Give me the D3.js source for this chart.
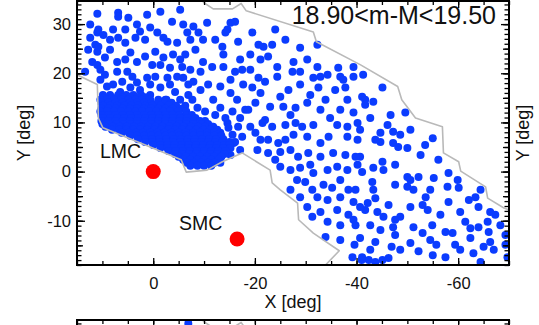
<!DOCTYPE html>
<html>
<head>
<meta charset="utf-8">
<script src="https://cdn.jsdelivr.net/npm/d3@7"></script>
<style>
  body { margin: 0; background: #fff; }
  svg { display: block; }
  text { font-family: "Liberation Sans", Arial, sans-serif; fill: #111; }
</style>
</head>
<body>
<svg id="chart" width="539" height="325"></svg>
<script>
// ---- data (sky coordinates in degrees, X grows to the left) ----
const xDomain = [15, -70];
const yDomain = [-19, 34.7];
const xMajorTicks = [0, -20, -40, -60];
const yMajorTicks = [-10, 0, 10, 20, 30];
const panelTitle = "18.90<m-M<19.50";
const nextPanelTitle = "19.50<m-M<20.10";
const xLabel = "X [deg]";
const yLabel = "Y [deg]";

// Magellanic Cloud centres
const cloudNames = ["LMC", "SMC"];
const cloudX = [0, -16.5];
const cloudY = [0, -13.7];

// survey footprint outline
const footprint = [
  [18.3, 37.0], [-8.9, 37.0], [-9.9, 34.4], [-11.8, 33.1], [-15.6, 33.1], [-17.3, 34.2],
  [-18.3, 32.7], [-31.5, 28.4], [-32.1, 26.4], [-40.8, 21.7], [-48.1, 17.3], [-48.9, 14.6],
  [-51.6, 10.9], [-56.9, 9.1], [-57.1, 3.8], [-60.1, 2.0], [-60.5, 0.1], [-65.4, -3.1],
  [-65.8, -5.4], [-69.0, -7.4], [-74.3, -9.4], [-74.3, -22.0], [-32.5, -22.0], [-33.9, -19.0],
  [-36.6, -16.1], [-31.5, -12.5], [-28.6, -9.8], [-28.4, -6.4], [-25.0, -3.7], [-23.4, -2.3],
  [-23.0, 0.3], [-17.5, 3.8], [-13.6, 2.0], [-10.6, 0.3], [-6.5, -0.1], [-5.5, 2.4],
  [0.6, 5.0], [9.9, 8.9], [10.8, 10.9], [11.0, 17.7], [15.0, 19.7], [18.3, 20.7]
];

// stars spread over the outer field
const fieldStars = [
  [11.0,32.1],[6.9,32.3],[6.9,31.5],[1.2,31.9],[-3.7,30.5],[3.2,29.9],[2.6,28.5],[10.8,28.9],
  [11.0,28.3],[12.4,27.2],[9.8,27.8],[7.9,28.9],[8.5,26.8],[6.9,27.2],[5.5,26.2],[3.5,27.2],
  [1.6,26.8],[-0.8,28.3],[-2.0,27.2],[-2.8,26.4],[-4.7,26.2],[11.4,25.8],[11.0,24.4],[10.8,25.4],
  [8.5,24.8],[4.5,24.2],[-0.4,24.4],[-2.0,23.2],[-3.9,23.8],[12.0,22.3],[11.0,21.7],[7.1,22.3],
  [3.2,22.3],[0.2,21.7],[10.4,20.7],[9.5,19.7],[7.1,20.3],[5.1,20.3],[4.1,19.3],[1.2,19.1],
  [-0.4,19.3],[-2.8,19.1],[-4.7,19.3],[7.9,17.7],[3.2,18.1],[9.1,17.3],[6.5,16.2],[2.6,16.6],
  [-1.4,17.1],[-4.3,16.2],[0.6,15.6],[4.5,17.1],[-2.4,14.6],[-5.3,14.6],
  [12.8,24.8],[9.5,23.2],[5.5,22.8],[1.6,23.4],[-1.4,21.7],[-3.3,21.1],[6.1,18.3],[0.6,17.7],
  [-3.3,17.7],[12.4,29.9],[4.9,31.3],[-1.4,32.5],[-5.3,32.9],[0.6,29.3],[5.5,28.9],[13.4,20.3],
  [10.4,18.7],[-7.3,26.8],[-5.3,22.8],[-6.9,17.7],
  [-5.9,29.9],[-7.9,29.5],[-6.7,28.3],[-10.6,30.3],[-8.9,28.3],[-9.8,26.8],[-8.3,24.8],[-6.3,23.8],
  [-15.2,30.3],[-16.1,30.5],[-14.6,28.9],[-14.2,28.3],[-19.5,28.3],[-16.7,26.4],[-13.6,25.4],[-20.7,25.8],
  [-21.7,25.4],[-23.4,25.8],[-13.8,23.8],[-32.3,25.8],[-17.1,22.8],[-9.8,22.3],[-11.6,21.3],[-7.3,20.7],
  [-9.3,20.3],[-13.8,21.3],[-16.1,20.3],[-17.5,20.7],[-19.1,20.7],[-20.7,19.1],[-22.6,23.4],[-24.4,21.3],
  [-24.4,19.3],[-22.0,18.3],[-27.6,22.3],[-30.3,22.8],[-27.4,20.3],[-28.9,20.3],[-32.3,21.3],[-32.9,19.3],
  [-31.5,19.1],[-34.3,19.7],[-36.4,21.1],[-36.8,19.3],[-39.4,21.3],[-37.4,18.7],[-32.5,17.1],[-35.8,16.6],
  [-39.4,19.3],[-26.6,16.6],[-25.0,15.2],[-21.1,16.0],[-19.5,17.1],[-17.7,17.7],[-15.2,16.0],[-13.2,17.3],
  [-10.8,17.7],[-7.9,18.3],[-5.9,19.1],[-9.3,16.6],[-6.9,15.6],[-11.8,14.6],[-16.5,14.6],[-20.1,14.0],
  [-23.0,13.2],[-25.6,13.2],[-28.0,13.0],[-30.3,14.0],[-32.9,12.6],[-36.8,12.6],[-38.2,14.6],[-39.4,12.0],
  [-5.7,21.3],
  [-12.2,26.8],[-19.1,23.8],[-26.0,26.8],[-28.9,25.2],[-24.0,28.9],[-21.1,22.8],[-15.2,18.7],[-28.9,17.7],
  [-30.9,15.6],[-22.0,10.5],[-27.0,11.5],[-33.9,14.6],[-34.8,10.9],[-37.8,17.1],[-18.1,12.6],[-21.1,6.5],
  [-26.0,6.5],[-30.9,1.4],[-27.0,-3.7],[-31.3,-3.7],[-36.8,-1.7],[-39.8,-3.7],
  [-41.3,19.7],[-45.1,17.1],[-41.1,15.2],[-41.7,14.6],[-43.3,14.2],[-41.7,13.6],[-46.7,11.5],[-49.6,12.0],
  [-42.7,10.9],[-40.7,8.5],
  [-46.1,9.5],[-47.2,8.1],[-44.7,7.9],[-48.6,7.5],[-55.0,6.8],[-44.7,6.0],[-47.2,5.8],[-48.2,5.0],
  [-50.0,4.8],[-52.6,3.4],[-45.1,2.0],[-43.3,0.8],[-45.3,0.3],[-43.1,-2.1],[-41.1,-0.1],[-56.1,2.4],
  [-50.0,-1.1],[-50.6,-1.7],[-52.2,-1.1],[-55.2,-1.3],[-58.1,-0.3],[-59.9,-1.7],[-50.0,-3.1],[-51.2,-3.7],
  [-57.9,-3.1],[-60.1,-3.3],[-43.3,-3.7],[-43.7,-5.4],[-42.2,-6.4],[-53.6,-5.2],[-53.0,-6.8],[-54.0,-7.8],
  [-50.6,-7.2],[-58.1,-6.2],[-62.1,-5.8],[-63.4,-5.2],[-64.4,-3.7],[-41.7,-7.8],[-44.1,-8.2],[-45.3,-9.2],
  [-48.6,-9.2],[-47.6,-9.8],[-51.2,-11.3],[-42.7,-10.9],[-44.7,-11.9],[-47.2,-11.3],[-53.0,-12.5],[-57.5,-12.3],
  [-58.9,-12.5],[-62.4,-11.5],[-64.0,-11.3],[-40.7,3.0],[-64.0,-7.2],[-67.3,-8.8],[-65.8,-10.2],
  [-43.7,6.5],[-50.6,8.5],[-53.5,5.4],[-47.6,1.4],[-54.5,-3.7],[-56.5,-8.8],[-60.4,-8.2],[-61.4,-10.2],
  [-66.3,-8.2],[-47.6,-2.7],[-46.3,-6.8],[-54.9,-10.9],
  [-11.8,9.1],[-14.6,9.9],[-16.7,9.1],[-19.1,9.1],[-21.5,9.9],[-23.4,9.1],[-26.0,9.5],[-28.0,9.9],
  [-29.3,9.1],[-31.5,9.5],[-36.2,9.5],[-38.2,9.1],[-40.2,9.9],[-15.6,7.5],[-17.5,7.1],[-20.1,7.9],
  [-22.6,6.5],[-24.6,5.8],[-27.6,7.5],[-30.3,7.1],[-32.9,5.8],[-34.5,7.1],[-38.2,7.1],[-40.2,6.5],
  [-15.8,5.8],[-20.5,4.4],[-22.6,3.8],[-25.0,4.0],[-27.0,4.4],[-28.5,3.0],[-30.5,3.8],[-32.9,3.0],
  [-35.4,3.8],[-37.8,3.4],[-39.8,3.0],[-24.0,2.4],[-25.0,1.0],[-27.0,0.3],[-28.9,0.8],[-29.9,-2.1],
  [-31.5,-0.3],[-34.3,0.3],[-36.2,1.0],[-38.2,0.3],[-40.2,1.4],[-28.3,-1.7],[-35.2,-3.3],[-33.5,-2.7],
  [-28.9,-5.2],[-32.3,-5.2],[-34.3,-5.8],[-36.8,-5.2],[-38.4,-3.7],[-39.4,-6.2],[-40.7,-7.2],[-30.3,-7.2],
  [-32.9,-8.2],[-36.2,-7.8],[-38.4,-8.8],[-39.4,-9.8],[-31.3,-9.2],[-34.3,-10.2],[-36.8,-10.9],[-39.8,-10.9],
  [-11.2,5.0],[-11.8,3.0],[-13.2,1.8],
  [-41.1,-17.4],[-42.4,-18.0],[-43.7,-18.4],[-45.1,-18.0],[-46.3,-17.6],[-48.6,-15.9],[-55.0,-17.0],[-63.0,-16.6],
  [-64.4,-18.4],[-67.0,-15.9],[-69.7,-17.4],[-39.6,-14.9],[-46.9,-15.3],[-55.7,-14.9],[-65.0,-15.3],[-39.2,-17.4],
  [-41.0,-18.0],[-33.9,-13.3],[-36.8,-13.9],[-40.7,-13.5],[-43.7,-14.3],[-47.6,-12.9],[-50.6,-14.5],[-54.5,-13.9],
  [-59.4,-14.9],[-62.4,-13.5],[-66.3,-14.3],[-69.3,-12.9],[-68.3,-10.9],[-66.0,-12.3],
  [-42.7,-15.9],[-52.2,-16.2],[-57.5,-17.4],[-60.4,-15.9],[-69.3,-14.9],
  [-6.3,13.4],[-8.7,13.0],[-10.2,12.2],[-12.2,11.5],[-14.2,10.9],[-7.7,14.6],[-13.2,13.0],[-15.6,12.2],
  [-17.1,10.9],[-18.7,12.6],[-14.8,8.9],[-16.1,6.0],[-17.1,4.4],[-14.2,5.4],[-15.2,3.4]
];

// densely packed stars of the LMC body
const lmcBodyStars = [
  [9.9,15.6],[8.5,15.6],[6.9,15.6],[5.3,15.6],[3.9,15.6],[2.4,15.6],
  [9.6,15.1],[8.2,15.1],[6.2,15.1],[4.6,15.1],[3.1,15.1],[1.6,15.1],
  [10.4,14.6],[9.1,14.6],[7.7,14.6],[6.3,14.6],[4.9,14.6],[3.5,14.6],[2.2,14.6],[0.6,14.6],[-1.0,14.6],[-2.6,14.6],
  [10.2,14.0],[8.8,14.0],[7.4,14.0],[6.0,14.0],[4.6,14.0],[3.2,14.0],[1.8,14.0],[0.4,14.0],[-1.0,14.0],[-2.3,14.0],[-3.6,14.0],
  [9.9,13.4],[8.5,13.4],[7.1,13.4],[5.7,13.4],[4.3,13.4],[3.0,13.4],[1.6,13.4],[0.2,13.4],[-1.4,13.4],[-3.0,13.4],[-4.5,13.4],
  [10.2,12.8],[8.8,12.8],[7.4,12.8],[6.0,12.8],[4.6,12.8],[3.2,12.8],[1.8,12.8],[0.4,12.8],[-1.0,12.8],[-2.4,12.8],[-3.8,12.8],[-5.3,12.8],
  [10.4,12.2],[9.1,12.2],[7.7,12.2],[6.3,12.2],[4.9,12.2],[3.5,12.2],[2.2,12.2],[0.8,12.2],[-0.6,12.2],[-2.0,12.2],[-3.3,12.2],[-4.9,12.2],[-6.5,12.2],
  [10.2,11.5],[8.8,11.5],[7.4,11.5],[6.0,11.5],[4.6,11.5],[3.2,11.5],[1.8,11.5],[0.4,11.5],[-1.0,11.5],[-2.4,11.5],[-3.8,11.5],[-5.2,11.5],[-6.6,11.5],[-7.6,11.5],
  [9.9,10.9],[8.5,10.9],[7.1,10.9],[5.7,10.9],[4.3,10.9],[3.0,10.9],[1.6,10.9],[0.2,10.9],[-1.2,10.9],[-2.6,10.9],[-3.9,10.9],[-5.3,10.9],[-6.7,10.9],[-8.3,10.9],
  [10.2,10.3],[8.8,10.3],[7.4,10.3],[6.0,10.3],[4.6,10.3],[3.2,10.3],[1.8,10.3],[0.4,10.3],[-1.0,10.3],[-2.4,10.3],[-3.8,10.3],[-5.2,10.3],[-6.6,10.3],[-8.0,10.3],[-9.2,10.3],[-10.2,10.3],
  [10.0,9.7],[8.7,9.7],[7.3,9.7],[5.9,9.7],[4.5,9.7],[3.2,9.7],[1.8,9.7],[0.4,9.7],[-1.0,9.7],[-2.4,9.7],[-3.7,9.7],[-5.1,9.7],[-6.5,9.7],[-7.9,9.7],[-9.5,9.7],[-10.8,9.7],
  [9.4,9.1],[8.0,9.1],[6.6,9.1],[5.2,9.1],[3.8,9.1],[2.4,9.1],[1.0,9.1],[-0.4,9.1],[-1.8,9.1],[-3.2,9.1],[-4.6,9.1],[-6.0,9.1],[-7.4,9.1],[-8.8,9.1],[-10.2,9.1],[-11.6,9.1],
  [8.1,8.5],[6.7,8.5],[5.3,8.5],[3.9,8.5],[2.6,8.5],[1.2,8.5],[-0.2,8.5],[-1.6,8.5],[-3.0,8.5],[-4.3,8.5],[-5.7,8.5],[-7.1,8.5],[-8.5,8.5],[-9.9,8.5],[-11.2,8.5],[-12.6,8.5],
  [6.2,7.9],[4.8,7.9],[3.4,7.9],[2.0,7.9],[0.6,7.9],[-0.8,7.9],[-2.2,7.9],[-3.6,7.9],[-5.0,7.9],[-6.4,7.9],[-7.8,7.9],[-9.2,7.9],[-10.6,7.9],[-12.0,7.9],[-13.2,7.9],
  [4.5,7.3],[3.2,7.3],[1.8,7.3],[0.4,7.3],[-1.0,7.3],[-2.4,7.3],[-3.7,7.3],[-5.1,7.3],[-6.5,7.3],[-7.9,7.3],[-9.3,7.3],[-10.6,7.3],[-12.0,7.3],[-13.4,7.3],
  [3.0,6.6],[1.6,6.6],[0.2,6.6],[-1.2,6.6],[-2.6,6.6],[-4.0,6.6],[-5.4,6.6],[-6.8,6.6],[-8.2,6.6],[-9.6,6.6],[-11.0,6.6],[-12.4,6.6],[-13.8,6.6],
  [1.6,6.0],[0.2,6.0],[-1.2,6.0],[-2.6,6.0],[-3.9,6.0],[-5.3,6.0],[-6.7,6.0],[-8.1,6.0],[-9.5,6.0],[-10.8,6.0],[-12.2,6.0],[-13.6,6.0],[-15.0,6.0],
  [0.0,5.4],[-1.4,5.4],[-2.8,5.4],[-4.2,5.4],[-5.6,5.4],[-7.0,5.4],[-8.4,5.4],[-9.8,5.4],[-11.2,5.4],[-12.6,5.4],[-14.0,5.4],[-15.0,5.4],
  [-1.4,4.8],[-2.8,4.8],[-4.1,4.8],[-5.5,4.8],[-6.9,4.8],[-8.3,4.8],[-9.7,4.8],[-11.0,4.8],[-12.4,4.8],[-13.8,4.8],[-15.2,4.8],
  [-3.0,4.2],[-4.4,4.2],[-5.8,4.2],[-7.2,4.2],[-8.6,4.2],[-10.0,4.2],[-11.4,4.2],[-12.8,4.2],[-14.2,4.2],
  [-4.3,3.6],[-5.7,3.6],[-7.1,3.6],[-8.5,3.6],[-9.9,3.6],[-11.2,3.6],[-12.6,3.6],[-14.0,3.6],
  [-5.0,3.0],[-6.4,3.0],[-7.8,3.0],[-9.2,3.0],[-10.6,3.0],[-12.0,3.0],[-13.4,3.0],
  [-5.9,2.4],[-7.3,2.4],[-8.7,2.4],[-10.0,2.4],[-11.4,2.4],[-12.8,2.4],
  [-6.6,1.8],[-8.0,1.8],[-9.4,1.8],[-10.8,1.8],[-12.0,1.8],
  [-7.3,1.2],[-8.7,1.2],[-10.0,1.2],[-11.4,1.2]
];

// stars at the top edge of the next panel down
const nextPanelStars = [[-6.9, 34.0]];

// ---- drawing ----
const plot = { left: 77, right: 509, top: 1, bottom: 265 };
const starColor = "#0b3cff";
const cloudColor = "#ff0000";
const footprintColor = "#b9b9b9";

const svg = d3.select("#chart");
const x = d3.scaleLinear().domain(xDomain).range([plot.left, plot.right]);
const y = d3.scaleLinear().domain(yDomain).range([plot.bottom, plot.top]);

svg.append("defs").append("clipPath").attr("id", "plotClip")
  .append("rect")
  .attr("x", plot.left).attr("y", plot.top)
  .attr("width", plot.right - plot.left).attr("height", plot.bottom - plot.top);

const xMinorTicks = d3.range(15, -70.1, -5);
const yMinorTicks = d3.range(-19, 35, 1);
const yMidTicks = d3.range(-15, 35, 5);

// one survey panel: stars, footprint, boxed frame with inward ticks, title
function drawPanel(g, title, stars, withBody, withTickLabels) {
  const inner = g.append("g").attr("clip-path", "url(#plotClip)");
  const line = d3.line().x(d => x(d[0])).y(d => y(d[1]));

  inner.append("g").selectAll("circle")
    .data(stars.concat(withBody ? lmcBodyStars : []))
    .join("circle")
    .attr("cx", d => x(d[0])).attr("cy", d => y(d[1]))
    .attr("r", 4).attr("fill", starColor);

  inner.append("path")
    .attr("d", line(footprint) + "Z")
    .attr("fill", "none").attr("stroke", footprintColor)
    .attr("stroke-width", 1.6).attr("stroke-linejoin", "round");

  g.append("rect")
    .attr("x", plot.left).attr("y", plot.top)
    .attr("width", plot.right - plot.left).attr("height", plot.bottom - plot.top)
    .attr("fill", "none").attr("stroke", "#000").attr("stroke-width", 2);

  const styleAxis = sel => {
    sel.select(".domain").remove();
    sel.selectAll("line").attr("stroke", "#000").attr("stroke-width", 1.3);
    sel.selectAll("text").attr("fill", "#111").attr("font-size", 16.5)
      .attr("font-family", '"Liberation Sans", Arial, sans-serif');
  };
  const fmt = withTickLabels ? (d => String(d)) : "";

  // bottom
  g.append("g").attr("transform", `translate(0,${plot.bottom})`)
    .call(d3.axisBottom(x).tickValues(xMinorTicks).tickSizeInner(-4).tickSizeOuter(0).tickFormat(""))
    .call(styleAxis);
  g.append("g").attr("transform", `translate(0,${plot.bottom})`)
    .call(d3.axisBottom(x).tickValues(xMajorTicks).tickSizeInner(-7).tickSizeOuter(0)
      .tickPadding(12).tickFormat(fmt))
    .call(styleAxis);
  // top
  g.append("g").attr("transform", `translate(0,${plot.top})`)
    .call(d3.axisTop(x).tickValues(xMinorTicks).tickSizeInner(-4).tickSizeOuter(0).tickFormat(""))
    .call(styleAxis);
  g.append("g").attr("transform", `translate(0,${plot.top})`)
    .call(d3.axisTop(x).tickValues(xMajorTicks).tickSizeInner(-7).tickSizeOuter(0).tickFormat(""))
    .call(styleAxis);
  // left
  g.append("g").attr("transform", `translate(${plot.left},0)`)
    .call(d3.axisLeft(y).tickValues(yMinorTicks).tickSizeInner(-4.5).tickSizeOuter(0).tickFormat(""))
    .call(styleAxis);
  g.append("g").attr("transform", `translate(${plot.left},0)`)
    .call(d3.axisLeft(y).tickValues(yMidTicks).tickSizeInner(-6).tickSizeOuter(0).tickFormat(""))
    .call(styleAxis);
  g.append("g").attr("transform", `translate(${plot.left},0)`)
    .call(d3.axisLeft(y).tickValues(yMajorTicks).tickSizeInner(-8).tickSizeOuter(0)
      .tickPadding(6).tickFormat(fmt))
    .call(styleAxis);
  // right
  g.append("g").attr("transform", `translate(${plot.right},0)`)
    .call(d3.axisRight(y).tickValues(yMinorTicks).tickSizeInner(-4.5).tickSizeOuter(0).tickFormat(""))
    .call(styleAxis);
  g.append("g").attr("transform", `translate(${plot.right},0)`)
    .call(d3.axisRight(y).tickValues(yMidTicks).tickSizeInner(-6).tickSizeOuter(0).tickFormat(""))
    .call(styleAxis);
  g.append("g").attr("transform", `translate(${plot.right},0)`)
    .call(d3.axisRight(y).tickValues(yMajorTicks).tickSizeInner(-8).tickSizeOuter(0).tickFormat(""))
    .call(styleAxis);

  g.append("text")
    .attr("x", 496).attr("y", plot.top + 23)
    .attr("text-anchor", "end").attr("font-size", 25)
    .text(title);
}

// main panel
const main = svg.append("g");
drawPanel(main, panelTitle, fieldStars, true, true);

// cloud centres and their names
main.append("g").selectAll("circle")
  .data(cloudNames)
  .join("circle")
  .attr("cx", (d, i) => x(cloudX[i])).attr("cy", (d, i) => y(cloudY[i]))
  .attr("r", 7.5).attr("fill", cloudColor);

main.append("text").attr("x", 100).attr("y", 158).attr("font-size", 19.5).text(cloudNames[0]);
main.append("text").attr("x", 179).attr("y", 230).attr("font-size", 19.5).text(cloudNames[1]);

// axis titles
main.append("text")
  .attr("x", (plot.left + plot.right) / 2).attr("y", 308)
  .attr("text-anchor", "middle").attr("font-size", 18)
  .text(xLabel);
main.append("text")
  .attr("transform", `translate(30,${(plot.top + plot.bottom) / 2}) rotate(-90)`)
  .attr("text-anchor", "middle").attr("font-size", 18)
  .text(yLabel);
// y title of the neighbouring panel on the right
main.append("text")
  .attr("transform", `translate(529,${(plot.top + plot.bottom) / 2}) rotate(-90)`)
  .attr("text-anchor", "middle").attr("font-size", 18)
  .text(yLabel);

// next panel down; only its upper edge falls inside the figure
const below = svg.append("g").attr("transform", "translate(0,319)");
drawPanel(below, nextPanelTitle, nextPanelStars, false, false);
</script>
</body>
</html>
